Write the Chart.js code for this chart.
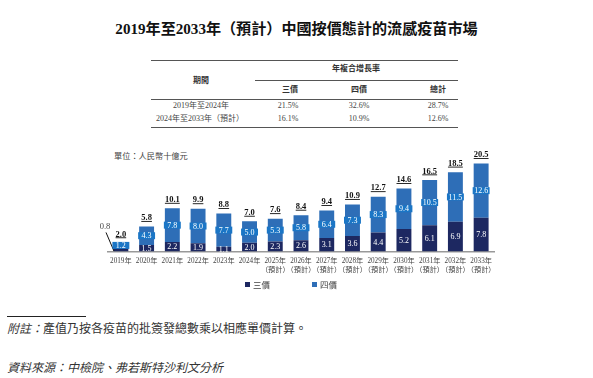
<!DOCTYPE html>
<html>
<head>
<meta charset="utf-8">
<script src="https://cdn.jsdelivr.net/npm/chart.js@4/dist/chart.umd.min.js"></script>
<style>
  body { margin: 0; width: 593px; height: 378px; background: #fff; position: relative; overflow: hidden;
         font-family: "Liberation Serif", "Noto Sans CJK TC", serif; color: #222; }
  .abs { position: absolute; white-space: nowrap; line-height: 1; }
  .title { left: 0; width: 593px; top: 30px; text-align: center; font-size: 15.1px; font-weight: bold; color: #111; transform: translateY(-50%); }
  .rule { position: absolute; height: 0; border-top: 1.5px solid #555; }
  .t { font-size: 8px; transform: translate(-50%, -50%); color: #444; }
  .th { font-weight: bold; color: #333; }
  #chartBox { position: absolute; left: 0; top: 140px; width: 593px; height: 160px; }
  .lg { font-size: 8.5px; color: #444; transform: translateY(-50%); }
  .sw { position: absolute; width: 5px; height: 5px; }
  .note { font-size: 12px; color: #333; transform: translateY(-50%); }
</style>
</head>
<body>
<div class="abs title">2019年至2033年（預計）中國按價態計的流感疫苗市場</div>

<div class="rule" style="left:151px; width:307px; top:60px;"></div>
<div class="rule" style="left:255px; width:203px; top:80px;"></div>
<div class="rule" style="left:151px; width:307px; top:99px;"></div>
<div class="rule" style="left:151px; width:307px; top:126.5px;"></div>

<div class="abs t th" style="left:201px; top:80.5px;">期間</div>
<div class="abs t th" style="left:356px; top:69px;">年複合增長率</div>
<div class="abs t th" style="left:290px; top:89.5px;">三價</div>
<div class="abs t th" style="left:359px; top:89.5px;">四價</div>
<div class="abs t th" style="left:438px; top:89.5px;">總計</div>
<div class="abs t" style="left:201px; top:106px;">2019年至2024年</div>
<div class="abs t" style="left:200px; top:119px;">2024年至2033年（預計）</div>
<div class="abs t" style="left:288px; top:106px;">21.5%</div>
<div class="abs t" style="left:359px; top:106px;">32.6%</div>
<div class="abs t" style="left:438px; top:106px;">28.7%</div>
<div class="abs t" style="left:288px; top:119px;">16.1%</div>
<div class="abs t" style="left:359px; top:119px;">10.9%</div>
<div class="abs t" style="left:438px; top:119px;">12.6%</div>

<div class="abs lg" style="left:114px; top:157px; font-size:8.2px;">單位：人民幣十億元</div>

<div id="chartBox"><canvas id="chart" width="593" height="160"></canvas></div>

<div class="sw" style="left:245px; top:282px; background:#1d2861;"></div>
<div class="abs lg" style="left:253px; top:284.5px;">三價</div>
<div class="sw" style="left:312px; top:282px; background:#2e6eb7;"></div>
<div class="abs lg" style="left:320px; top:284.5px;">四價</div>

<div class="rule" style="left:7px; width:79px; top:316px; border-top:1px solid #222;"></div>
<div class="abs note" style="left:7px; top:328.5px;"><i>附註：</i>產值乃按各疫苗的批簽發總數乘以相應單價計算。</div>
<div class="abs note" style="left:7px; top:368px;"><i>資料來源：中檢院、弗若斯特沙利文分析</i></div>

<script>
const years = ['2019年', '2020年', '2021年', '2022年', '2023年', '2024年',
  ['2025年', '（預計）'], ['2026年', '（預計）'], ['2027年', '（預計）'], ['2028年', '（預計）'],
  ['2029年', '（預計）'], ['2030年', '（預計）'], ['2031年', '（預計）'], ['2032年', '（預計）'], ['2033年', '（預計）']];
const trivalent = [0.8, 1.5, 2.2, 1.9, 1.1, 2.0, 2.3, 2.6, 3.1, 3.6, 4.4, 5.2, 6.1, 6.9, 7.8];
const quadrivalent = [1.2, 4.3, 7.8, 8.0, 7.7, 5.0, 5.3, 5.8, 6.4, 7.3, 8.3, 9.4, 10.5, 11.5, 12.6];
const totals = [2.0, 5.8, 10.1, 9.9, 8.8, 7.0, 7.6, 8.4, 9.4, 10.9, 12.7, 14.6, 16.5, 18.5, 20.5];

const darkBlue = '#1d2861';
const midBlue = '#2e6eb7';
const boxBlue = '#1b76c6';
const fontFam = '"Liberation Serif", "Noto Sans CJK TC", serif';

// value labels on the bars, totals above them
const barLabels = {
  id: 'barLabels',
  afterDatasetsDraw(chart) {
    const ctx = chart.ctx;
    const m0 = chart.getDatasetMeta(0);
    const m1 = chart.getDatasetMeta(1);
    ctx.save();
    ctx.textAlign = 'center';
    ctx.textBaseline = 'middle';
    m0.data.forEach((bar, i) => {
      const txt = trivalent[i].toFixed(1);
      ctx.font = '8.5px ' + fontFam;
      if (i === 0) {
        // segment too thin: label outside with a leader line
        ctx.fillStyle = '#444';
        ctx.fillText(txt, 105, bar.base - 25);
        ctx.strokeStyle = '#111';
        ctx.lineWidth = 1;
        ctx.beginPath();
        ctx.moveTo(106, bar.base - 19);
        ctx.lineTo(bar.x - bar.width / 2 + 0.5, bar.base - 0.5);
        ctx.stroke();
        return;
      }
      ctx.fillStyle = '#fff';
      ctx.font = '8px ' + fontFam;
      ctx.fillText(txt, bar.x, (bar.y + bar.base) / 2 + 0.5);
    });
    m1.data.forEach((bar, i) => {
      const cy = (bar.y + bar.base) / 2;
      const w = bar.width + 2;
      ctx.fillStyle = boxBlue;
      ctx.fillRect(bar.x - w / 2, cy - 3.5, w, 7);
      ctx.fillStyle = '#fff';
      ctx.font = '8px ' + fontFam;
      ctx.fillText(quadrivalent[i].toFixed(1), bar.x, cy + 0.5);
      ctx.fillStyle = '#111';
      ctx.font = 'bold 8.5px ' + fontFam;
      const t = totals[i].toFixed(1);
      const ty = bar.y - 8.5;
      ctx.fillText(t, bar.x, ty);
      const tw = ctx.measureText(t).width;
      ctx.fillRect(bar.x - tw / 2, bar.y - 5.5, tw, 0.9);
    });
    ctx.restore();
  }
};

new Chart(document.getElementById('chart'), {
  type: 'bar',
  data: {
    labels: years,
    datasets: [{
      label: '三價',
      data: trivalent,
      backgroundColor: darkBlue,
      barPercentage: 0.58,
      categoryPercentage: 1
    }, {
      label: '四價',
      data: quadrivalent,
      backgroundColor: midBlue,
      barPercentage: 0.58,
      categoryPercentage: 1
    }]
  },
  options: {
    responsive: false,
    animation: false,
    layout: { padding: { left: 108, right: 99, top: 8, bottom: 20 } },
    plugins: { legend: { display: false }, tooltip: { enabled: false } },
    scales: {
      x: {
        stacked: true,
        grid: { display: false, drawTicks: false },
        border: { display: true, color: '#999', width: 1.5 },
        ticks: { color: '#444', font: { family: fontFam, size: 7.2, lineHeight: 1.15 }, padding: 6, maxRotation: 0, autoSkip: false }
      },
      y: {
        stacked: true,
        display: false,
        min: 0,
        max: 24
      }
    }
  },
  plugins: [barLabels]
});
</script>
</body>
</html>
